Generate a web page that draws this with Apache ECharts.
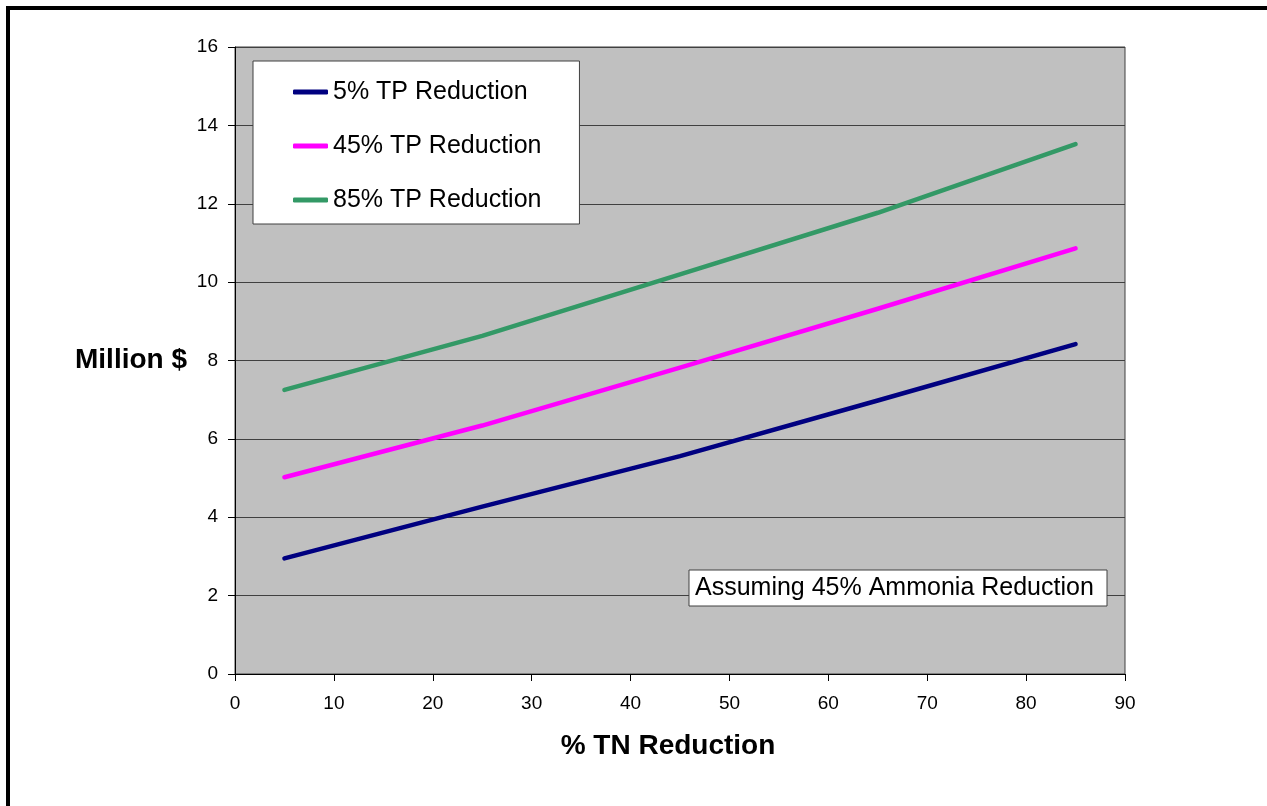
<!DOCTYPE html>
<html>
<head>
<meta charset="utf-8">
<script src="https://cdn.jsdelivr.net/npm/echarts@6/dist/echarts.min.js"></script>
<style>
  html, body { margin: 0; padding: 0; background: #fff; }
  #chart { width: 1267px; height: 806px; }
</style>
</head>
<body>
<div id="chart"></div>
<script>
// % TN reduction levels at which costs were estimated
const tnReduction = [5, 25, 45, 65, 85];

// Cost in million $ for each TP reduction scenario
const tp5 = [2.95, 4.27, 5.56, 6.98, 8.42];
const tp45 = [5.02, 6.34, 7.82, 9.32, 10.86];
const tp85 = [7.25, 8.63, 10.2, 11.77, 13.52];

const seriesNames = ['5% TP Reduction', '45% TP Reduction', '85% TP Reduction'];
const seriesColors = ['#000080', '#FF00FF', '#339966'];
const seriesValues = [tp5, tp45, tp85];

const xTicks = { min: 0, max: 90, interval: 10 };
const yTicks = { min: 0, max: 16, interval: 2 };

const note = 'Assuming 45% Ammonia Reduction';

const FONT = 'Arial, "Liberation Sans", sans-serif';

const chart = echarts.init(document.getElementById('chart'), null, { renderer: 'canvas' });

const series = seriesNames.map((name, i) => ({
  name: name,
  type: 'line',
  data: tnReduction.map((x, j) => [x, seriesValues[i][j]]),
  showSymbol: false,
  symbol: 'none',
  smooth: false,
  lineStyle: { color: seriesColors[i], width: 4.5, cap: 'round', join: 'round' },
  itemStyle: { color: seriesColors[i] },
  emphasis: { disabled: true },
  z: 3
}));

chart.setOption({
  animation: false,
  backgroundColor: '#ffffff',
  textStyle: { fontFamily: FONT },
  grid: {
    left: 235, top: 47, right: 142, bottom: 132,
    show: true,
    backgroundColor: '#C0C0C0',
    borderColor: '#404040',
    borderWidth: 1
  },
  xAxis: {
    type: 'value',
    min: xTicks.min, max: xTicks.max, interval: xTicks.interval,
    name: '% TN Reduction',
    nameLocation: 'middle',
    nameGap: 58,
    nameTextStyle: { fontFamily: FONT, fontSize: 28, fontWeight: 'bold', color: '#000', padding: [0, 24, 0, 0] },
    axisLine: { show: true, onZero: false, lineStyle: { color: '#000', width: 1 } },
    axisTick: { show: true, length: 7, lineStyle: { color: '#000' } },
    axisLabel: { color: '#000', fontSize: 19, margin: 20, fontFamily: FONT },
    splitLine: { show: false }
  },
  yAxis: {
    type: 'value',
    min: yTicks.min, max: yTicks.max, interval: yTicks.interval,
    name: 'Million $',
    nameLocation: 'middle',
    nameRotate: 0,
    nameGap: 48,
    nameTextStyle: { fontFamily: FONT, fontSize: 28, fontWeight: 'bold', color: '#000', align: 'right' },
    axisLine: { show: true, onZero: false, lineStyle: { color: '#000', width: 1 } },
    axisTick: { show: true, length: 7, lineStyle: { color: '#000' } },
    axisLabel: { color: '#000', fontSize: 19, margin: 17, fontFamily: FONT },
    splitLine: { show: true, lineStyle: { color: '#404040', width: 1 } }
  },
  legend: {
    show: true,
    orient: 'vertical',
    left: 253,
    top: 61,
    backgroundColor: '#ffffff',
    borderColor: '#404040',
    borderWidth: 1,
    borderRadius: 0,
    padding: [18, 38, 11, 40],
    itemGap: 28,
    itemWidth: 35,
    itemHeight: 5,
    icon: 'roundRect',
    selectedMode: false,
    data: seriesNames.map((n, i) => ({ name: n, itemStyle: { color: seriesColors[i] } })),
    textStyle: { fontFamily: FONT, fontSize: 25, color: '#000', lineHeight: 26, padding: [0, 0, 0, 0] }
  },
  graphic: {
    elements: [
      // page frame (left and top edges)
      { type: 'rect', left: 6, top: 6, z: 100, shape: { width: 4, height: 800 }, style: { fill: '#000' }, silent: true },
      { type: 'rect', left: 6, top: 6, z: 100, shape: { width: 1261, height: 4 }, style: { fill: '#000' }, silent: true },
      // annotation box
      { type: 'rect', x: 689, y: 570, z: 100, shape: { x: 0, y: 0, width: 418, height: 36 }, style: { fill: '#fff', stroke: '#404040', lineWidth: 1 }, silent: true },
      { type: 'text', x: 695, y: 588, z: 101, style: { text: note, fontFamily: FONT, fontSize: 25, fill: '#000', verticalAlign: 'middle', align: 'left' }, silent: true }
    ]
  },
  series: series
});
</script>
</body>
</html>
